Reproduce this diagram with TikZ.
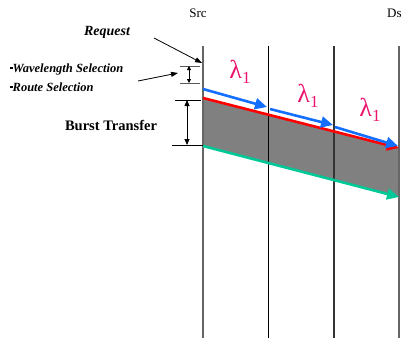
\documentclass[tikz,border=0pt]{standalone}
\usepackage{fontspec}
\setmainfont{Liberation Serif}
\usetikzlibrary{arrows.meta}
\definecolor{lamcol}{RGB}{235,20,110}
\definecolor{bluec}{RGB}{20,110,255}
\definecolor{greenc}{RGB}{0,200,150}
\newcommand{\lamone}{{\fontsize{26}{26}\selectfont λ}\raisebox{-5pt}{\fontsize{17}{17}\selectfont 1}}
\newcommand{\sqbul}{\raisebox{3pt}{\rule{2.5pt}{2.5pt}}}
\tikzset{
  lbl/.style={inner sep=0pt, font=\fontsize{13}{15}\selectfont},
  bi/.style={inner sep=0pt, font=\fontsize{12.5}{15}\selectfont\bfseries\itshape},
  lam/.style={inner sep=0pt, text=lamcol},
  tick/.style={line width=0.8pt},
  dbl/.style={line width=0.8pt, {Triangle[length=6pt,width=5pt]}-{Triangle[length=6pt,width=5pt]}},
  pointer/.style={line width=0.8pt, -{Triangle[length=7pt,width=5pt]}},
  fat/.style={line width=2.6pt, -{Triangle[length=12pt,width=11pt]}}
}
\begin{document}
\begin{tikzpicture}[x=1pt,y=-1pt]
\useasboundingbox (0,0) rectangle (403,338);
% grey burst
\fill[gray] (203,98) -- (399,148) -- (399,197) -- (203,146) -- cycle;
% vertical lines
\coordinate (s1t) at (203,46); \coordinate (s1b) at (203,338);
\coordinate (s2t) at (268,46); \coordinate (s2b) at (268,338);
\coordinate (s3t) at (334,46); \coordinate (s3b) at (334,338);
\coordinate (s4t) at (399,46); \coordinate (s4b) at (399,338);
\draw[line width=1.4pt, gray!80!black] (s1t) -- (s1b);
\draw[line width=0.9pt, black] (s2t) -- (s2b);
\draw[line width=1.1pt, black!80] (s3t) -- (s3b);
\draw[line width=1.4pt, gray!80!black] (s4t) -- (s4b);
% labels top
\node[lbl] (src) at (198,13) {Src};
\node[lbl, anchor=west] (dst) at (387,13) {Ds};
% request
\node[bi, font=\fontsize{14}{16}\selectfont\bfseries\itshape] (req) at (107,32) {Request};
\coordinate (reqs) at (154,38);
\coordinate (reqe) at (202,63);
\draw[pointer] (reqs) -- (reqe);
% wavelength selection
\node[bi, anchor=base west] (wl) at (10,72) {\sqbul Wavelength Selection};
\node[bi, anchor=base west] (rs) at (10,91) {\sqbul Route Selection};
\coordinate (w1a) at (180,66); \coordinate (w1b) at (200,66);
\coordinate (w2a) at (180,83); \coordinate (w2b) at (200,83);
\draw[tick, gray!70!black] (w1a) -- (w1b);
\draw[tick, gray!70!black] (w2a) -- (w2b);
\coordinate (wt) at (189,66); \coordinate (wb) at (189,83);
\draw[line width=0.8pt, {Triangle[length=4pt,width=4pt]}-{Triangle[length=4pt,width=4pt]}] (wt) -- (wb);
\coordinate (wps) at (138,81); \coordinate (wpe) at (178,73);
\draw[pointer] (wps) -- (wpe);
% burst transfer
\node[lbl, font=\fontsize{14.5}{17}\selectfont\bfseries] (bt) at (111,125) {Burst Transfer};
\coordinate (b1a) at (175,100); \coordinate (b1b) at (201,100);
\coordinate (b2a) at (172,145); \coordinate (b2b) at (203,145);
\draw[tick] (b1a) -- (b1b);
\draw[tick] (b2a) -- (b2b);
\coordinate (bt1) at (187,100); \coordinate (bt2) at (187,145);
\draw[dbl] (bt1) -- (bt2);
% red and green
\coordinate (rs0) at (203,98); \coordinate (re0) at (399,148);
\coordinate (gs0) at (203,146); \coordinate (ge0) at (399,197);
\draw[fat, red] (rs0) -- (re0);
\draw[fat, greenc] (gs0) -- (ge0);
% blue
\coordinate (bs1) at (203,89); \coordinate (be1) at (267,107);
\coordinate (bs2) at (270,109); \coordinate (be2) at (333,125);
\coordinate (bs3) at (335,127); \coordinate (be3) at (398,146);
\draw[fat, bluec] (bs1) -- (be1);
\draw[fat, bluec] (bs2) -- (be2);
\draw[fat, bluec] (bs3) -- (be3);
% lambdas
\node[lam] (l1) at (240,72) {\lamone};
\node[lam] (l2) at (308,96) {\lamone};
\node[lam] (l3) at (370,110) {\lamone};
\end{tikzpicture}
\end{document}
